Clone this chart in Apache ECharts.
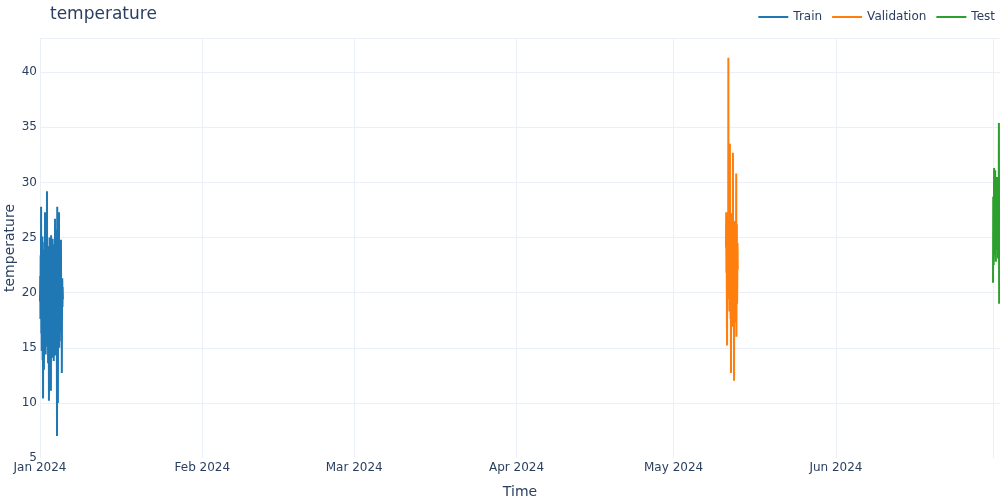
<!DOCTYPE html>
<html>
<head>
<meta charset="utf-8">
<script src="https://cdn.jsdelivr.net/npm/echarts@6/dist/echarts.min.js"></script>
<style>
  html, body { margin: 0; padding: 0; background: #fff; }
  #chart { width: 1000px; height: 500px; }
</style>
</head>
<body>
<div id="chart"></div>
<script>
// hourly readings, each split starts at its own timestamp
const trainStart = '2024-01-01T00:00:00';
const validationStart = '2024-05-11T00:00:00';
const testStart = '2024-07-01T00:00:00';

const trainValues = [19.2, 21.5, 17.6, 23.4, 18.1, 27.8, 16.3, 20.9, 14.7, 22.6, 18.8, 25.1, 13.9, 19.5, 10.4, 21.7,
  15.2, 23.9, 13.0, 20.4, 17.1, 24.6, 15.8, 27.3, 18.5, 22.0, 14.4, 19.8, 23.3, 16.0, 21.2, 17.4, 29.2, 18.9, 22.7,
  15.1, 24.2, 13.6, 20.3, 17.9, 23.1, 10.2, 19.6, 16.7, 25.0, 14.8, 21.9, 12.6, 18.4, 22.5, 11.1, 25.2, 17.3, 20.8,
  14.1, 23.7, 16.5, 19.1, 24.9, 15.4, 21.4, 18.2, 22.9, 13.8, 20.1, 17.0, 24.4, 16.2, 19.7, 26.7, 14.3, 21.1, 18.6,
  23.5, 15.9, 20.6, 25.7, 17.8, 7.0, 27.8, 19.3, 14.0, 10.0, 22.3, 18.0, 24.1, 16.8, 27.3, 15.0, 21.6, 19.0, 23.2,
  16.4, 20.7, 17.7, 22.4, 24.8, 18.3, 15.6, 21.0, 12.7, 19.9, 21.3, 18.7, 20.5, 19.4];

const validationValues = [24.1, 27.3, 21.8, 25.6, 19.9, 15.2, 23.7, 26.4, 20.5, 24.8, 22.2, 41.3, 19.4, 25.9, 21.1,
  27.0, 18.3, 24.3, 33.5, 20.7, 26.1, 17.6, 23.0, 12.7, 25.4, 19.2, 22.8, 27.2, 18.8, 24.6, 21.4, 16.9, 32.7, 20.2,
  25.1, 18.0, 23.6, 12.0, 21.9, 26.5, 19.6, 24.0, 17.3, 22.5, 25.8, 18.6, 20.9, 30.8, 16.0, 23.3, 26.2, 19.0, 21.6,
  24.5, 22.1];

const testValues = [20.9, 28.7, 24.2, 22.5, 27.6, 31.3, 25.0, 23.4, 29.8, 26.1, 31.1, 24.7, 27.9, 22.8, 30.2, 25.6,
  28.4, 23.9, 26.8, 30.5, 24.4, 27.2, 29.1, 23.1, 26.5, 28.9, 25.3, 35.4, 19.0, 27.7, 24.8, 29.4, 26.0];

const monthNames = ['Jan', 'Feb', 'Mar', 'Apr', 'May', 'Jun', 'Jul', 'Aug', 'Sep', 'Oct', 'Nov', 'Dec'];
const yTicks = [5, 10, 15, 20, 25, 30, 35, 40];

const HOUR = 3600 * 1000;
function toSeries(start, values) {
  const t0 = new Date(start).getTime();
  return values.map((v, i) => [t0 + i * HOUR, v]);
}

const FONT = 'DejaVu Sans';
const fontColor = '#2a3f5f';
const gridColor = '#ebf0f8';

const chart = echarts.init(document.getElementById('chart'));
chart.setOption({
  animation: false,
  textStyle: { fontFamily: FONT, color: fontColor },
  title: {
    text: 'temperature',
    left: 45,
    top: 1,
    textStyle: { fontFamily: FONT, fontSize: 17, fontWeight: 'normal', color: fontColor }
  },
  legend: {
    right: 0,
    top: 6,
    itemWidth: 30,
    itemHeight: 2,
    itemGap: 10,
    icon: 'rect',
    textStyle: { fontFamily: FONT, fontSize: 12, color: fontColor },
    data: ['Train', 'Validation', 'Test']
  },
  grid: { left: 40, right: 0, top: 38, bottom: 42, outerBoundsMode: 'none' },
  xAxis: {
    type: 'time',
    min: 'dataMin',
    max: 'dataMax',
    name: 'Time',
    nameLocation: 'middle',
    nameGap: 27,
    nameMoveOverlap: false,
    nameTextStyle: { fontFamily: FONT, fontSize: 14, color: fontColor },
    minInterval: 28 * 24 * HOUR,
    maxInterval: 31 * 24 * HOUR,
    axisLine: { show: false },
    axisTick: { show: false },
    axisLabel: {
      margin: 4,
      fontSize: 12,
      color: fontColor,
      fontFamily: FONT,
      showMaxLabel: false,
      formatter: function (val) {
        const d = new Date(val);
        if (d.getMonth() === 6) return '';
        return monthNames[d.getMonth()] + ' ' + d.getFullYear();
      }
    },
    splitLine: { show: true, showMinLine: false, lineStyle: { color: gridColor, width: 1 } }
  },
  yAxis: {
    type: 'value',
    min: yTicks[0],
    max: 43.1,
    interval: 5,
    name: 'temperature',
    nameLocation: 'middle',
    nameGap: 23,
    nameMoveOverlap: false,
    nameTextStyle: { fontFamily: FONT, fontSize: 14, color: fontColor },
    axisLine: { show: false },
    axisTick: { show: false },
    axisLabel: {
      margin: 3,
      fontSize: 12,
      color: fontColor,
      fontFamily: FONT,
      showMaxLabel: false,
      formatter: function (v) { return yTicks.indexOf(v) >= 0 ? String(v) : ''; }
    },
    splitLine: { show: true, showMinLine: false, lineStyle: { color: gridColor, width: 1 } }
  },
  series: [
    {
      name: 'Train', type: 'line', showSymbol: false, sampling: 'none',
      data: toSeries(trainStart, trainValues),
      itemStyle: { color: '#1f77b4' }, lineStyle: { color: '#1f77b4', width: 2 }
    },
    {
      name: 'Validation', type: 'line', showSymbol: false, sampling: 'none',
      data: toSeries(validationStart, validationValues),
      itemStyle: { color: '#ff7f0e' }, lineStyle: { color: '#ff7f0e', width: 2 }
    },
    {
      name: 'Test', type: 'line', showSymbol: false, sampling: 'none',
      data: toSeries(testStart, testValues),
      itemStyle: { color: '#2ca02c' }, lineStyle: { color: '#2ca02c', width: 2 }
    }
  ]
});
</script>
</body>
</html>
